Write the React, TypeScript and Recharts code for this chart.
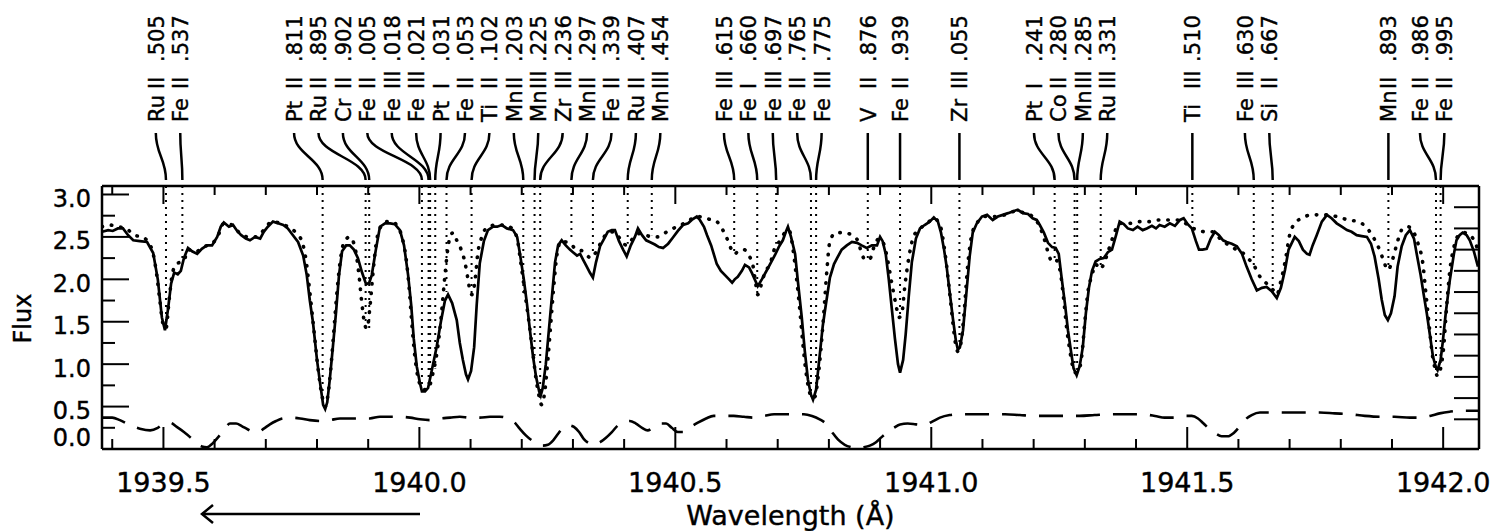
import React from "react";
import { Label, Line, LineChart, ReferenceLine, XAxis, YAxis } from "recharts";

const FONT = "'DejaVu Sans', Verdana, sans-serif";
const INK = "#000";

const X_DOMAIN: [number, number] = [1939.38, 1942.07];
const Y_DOMAIN: [number, number] = [0, 3.1];
const PLOT_W = 1377;
const PLOT_H = 263;

// [wavelength (Å), flux] — observed spectrum, solid
const observed: [number, number][] = [
  [1939.38, 2.56], [1939.392, 2.58], [1939.401, 2.57], [1939.411, 2.6], [1939.421, 2.6], [1939.431, 2.52],
  [1939.441, 2.46], [1939.454, 2.45], [1939.468, 2.44], [1939.48, 2.31], [1939.489, 2.0], [1939.497, 1.55],
  [1939.503, 1.4], [1939.509, 1.65], [1939.515, 1.95], [1939.521, 2.08], [1939.528, 2.06], [1939.534, 2.1],
  [1939.54, 2.25], [1939.548, 2.37], [1939.556, 2.33], [1939.566, 2.3], [1939.575, 2.36], [1939.585, 2.4],
  [1939.595, 2.4], [1939.605, 2.5], [1939.612, 2.62], [1939.618, 2.67], [1939.628, 2.62], [1939.636, 2.64],
  [1939.644, 2.57], [1939.652, 2.52], [1939.661, 2.48], [1939.669, 2.46], [1939.679, 2.5], [1939.689, 2.48],
  [1939.696, 2.56], [1939.704, 2.62], [1939.714, 2.68], [1939.724, 2.66], [1939.734, 2.64], [1939.743, 2.6],
  [1939.753, 2.52], [1939.763, 2.44], [1939.773, 2.28], [1939.78, 2.05], [1939.786, 1.75], [1939.792, 1.5],
  [1939.8, 1.05], [1939.806, 0.78], [1939.812, 0.52], [1939.816, 0.47], [1939.82, 0.55], [1939.825, 0.82],
  [1939.831, 1.2], [1939.837, 1.6], [1939.843, 2.05], [1939.849, 2.33], [1939.857, 2.4], [1939.864, 2.4],
  [1939.872, 2.35], [1939.88, 2.25], [1939.888, 2.08], [1939.896, 1.94], [1939.902, 1.96], [1939.907, 2.05],
  [1939.915, 2.35], [1939.923, 2.62], [1939.933, 2.66], [1939.943, 2.66], [1939.952, 2.65], [1939.962, 2.58],
  [1939.97, 2.4], [1939.978, 2.05], [1939.984, 1.7], [1939.989, 1.3], [1939.995, 0.97], [1940.001, 0.78],
  [1940.005, 0.68], [1940.011, 0.68], [1940.017, 0.72], [1940.025, 0.95], [1940.034, 1.21], [1940.042, 1.5],
  [1940.05, 1.75], [1940.056, 1.82], [1940.064, 1.72], [1940.073, 1.52], [1940.079, 1.25], [1940.085, 1.05],
  [1940.091, 0.88], [1940.095, 0.82], [1940.101, 0.92], [1940.107, 1.2], [1940.112, 1.7], [1940.118, 2.19],
  [1940.126, 2.45], [1940.134, 2.58], [1940.144, 2.62], [1940.152, 2.62], [1940.161, 2.64], [1940.171, 2.6],
  [1940.183, 2.58], [1940.191, 2.5], [1940.196, 2.32], [1940.204, 2.0], [1940.21, 1.72], [1940.216, 1.4],
  [1940.222, 1.09], [1940.228, 0.85], [1940.234, 0.68], [1940.237, 0.63], [1940.241, 0.72], [1940.247, 1.0],
  [1940.253, 1.4], [1940.259, 1.8], [1940.265, 2.2], [1940.271, 2.4], [1940.278, 2.46], [1940.286, 2.4],
  [1940.294, 2.35], [1940.3, 2.32], [1940.308, 2.28], [1940.314, 2.3], [1940.32, 2.23], [1940.327, 2.15],
  [1940.333, 2.08], [1940.339, 2.02], [1940.345, 2.2], [1940.353, 2.39], [1940.361, 2.48], [1940.368, 2.56],
  [1940.376, 2.58], [1940.382, 2.58], [1940.39, 2.45], [1940.398, 2.35], [1940.405, 2.27], [1940.413, 2.4],
  [1940.421, 2.5], [1940.427, 2.6], [1940.435, 2.52], [1940.443, 2.46], [1940.45, 2.44], [1940.46, 2.41],
  [1940.468, 2.38], [1940.476, 2.37], [1940.486, 2.42], [1940.495, 2.49], [1940.505, 2.57], [1940.515, 2.64],
  [1940.525, 2.66], [1940.532, 2.7], [1940.542, 2.74], [1940.548, 2.7], [1940.556, 2.62], [1940.562, 2.52],
  [1940.57, 2.4], [1940.575, 2.3], [1940.581, 2.18], [1940.589, 2.1], [1940.597, 2.05], [1940.605, 2.0],
  [1940.611, 1.96], [1940.616, 2.0], [1940.622, 2.03], [1940.63, 2.1], [1940.636, 2.17], [1940.644, 2.14],
  [1940.65, 2.07], [1940.655, 2.0], [1940.661, 1.92], [1940.669, 2.0], [1940.679, 2.11], [1940.687, 2.2],
  [1940.695, 2.29], [1940.702, 2.38], [1940.71, 2.46], [1940.716, 2.56], [1940.72, 2.62], [1940.726, 2.5],
  [1940.734, 2.3], [1940.739, 2.0], [1940.747, 1.55], [1940.753, 1.15], [1940.759, 0.82], [1940.765, 0.64],
  [1940.769, 0.58], [1940.775, 0.7], [1940.782, 1.1], [1940.788, 1.45], [1940.794, 1.7], [1940.802, 2.02],
  [1940.81, 2.18], [1940.816, 2.25], [1940.825, 2.35], [1940.835, 2.4], [1940.845, 2.44], [1940.855, 2.43],
  [1940.864, 2.4], [1940.874, 2.37], [1940.884, 2.4], [1940.894, 2.4], [1940.9, 2.5], [1940.905, 2.45],
  [1940.911, 2.3], [1940.917, 2.0], [1940.923, 1.65], [1940.929, 1.3], [1940.935, 1.0], [1940.939, 0.9],
  [1940.945, 1.05], [1940.95, 1.35], [1940.956, 1.8], [1940.962, 2.2], [1940.97, 2.48], [1940.978, 2.6],
  [1940.987, 2.64], [1940.997, 2.68], [1941.005, 2.73], [1941.013, 2.68], [1941.019, 2.55], [1941.025, 2.35],
  [1941.03, 2.15], [1941.036, 1.85], [1941.042, 1.55], [1941.048, 1.28], [1941.052, 1.17], [1941.056, 1.2],
  [1941.062, 1.4], [1941.068, 1.8], [1941.075, 2.27], [1941.081, 2.55], [1941.089, 2.66], [1941.099, 2.74],
  [1941.109, 2.76], [1941.12, 2.7], [1941.13, 2.74], [1941.14, 2.76], [1941.15, 2.78], [1941.159, 2.8],
  [1941.169, 2.82], [1941.179, 2.78], [1941.189, 2.77], [1941.198, 2.72], [1941.206, 2.7], [1941.212, 2.64],
  [1941.22, 2.55], [1941.228, 2.43], [1941.236, 2.38], [1941.243, 2.37], [1941.249, 2.3], [1941.255, 2.0],
  [1941.261, 1.72], [1941.267, 1.4], [1941.273, 1.15], [1941.278, 0.95], [1941.284, 0.87], [1941.29, 0.98],
  [1941.296, 1.2], [1941.302, 1.6], [1941.308, 1.9], [1941.314, 2.1], [1941.321, 2.21], [1941.329, 2.24],
  [1941.337, 2.25], [1941.345, 2.32], [1941.353, 2.35], [1941.361, 2.52], [1941.368, 2.68], [1941.376, 2.65],
  [1941.384, 2.6], [1941.394, 2.58], [1941.403, 2.62], [1941.413, 2.58], [1941.421, 2.6], [1941.431, 2.63],
  [1941.439, 2.6], [1941.446, 2.64], [1941.456, 2.62], [1941.466, 2.66], [1941.476, 2.63], [1941.486, 2.7],
  [1941.493, 2.72], [1941.501, 2.65], [1941.509, 2.6], [1941.517, 2.45], [1941.523, 2.35], [1941.53, 2.35],
  [1941.538, 2.36], [1941.546, 2.48], [1941.554, 2.56], [1941.562, 2.52], [1941.57, 2.46], [1941.577, 2.44],
  [1941.587, 2.42], [1941.597, 2.39], [1941.607, 2.3], [1941.616, 2.15], [1941.626, 2.0], [1941.636, 1.87],
  [1941.646, 1.9], [1941.655, 1.91], [1941.665, 1.86], [1941.675, 1.78], [1941.683, 1.9], [1941.691, 2.11],
  [1941.698, 2.35], [1941.71, 2.5], [1941.718, 2.45], [1941.726, 2.35], [1941.734, 2.3], [1941.739, 2.29],
  [1941.745, 2.4], [1941.753, 2.52], [1941.763, 2.68], [1941.773, 2.76], [1941.782, 2.72], [1941.792, 2.66],
  [1941.802, 2.62], [1941.812, 2.58], [1941.821, 2.56], [1941.831, 2.52], [1941.841, 2.51], [1941.851, 2.5],
  [1941.859, 2.42], [1941.866, 2.27], [1941.874, 2.0], [1941.88, 1.76], [1941.886, 1.58], [1941.892, 1.52],
  [1941.898, 1.6], [1941.905, 1.8], [1941.911, 2.15], [1941.919, 2.39], [1941.927, 2.52], [1941.935, 2.58],
  [1941.943, 2.48], [1941.948, 2.31], [1941.956, 2.05], [1941.962, 1.82], [1941.968, 1.6], [1941.974, 1.35],
  [1941.98, 1.09], [1941.986, 0.96], [1941.989, 0.93], [1941.995, 1.05], [1941.999, 1.25], [1942.005, 1.6],
  [1942.013, 1.99], [1942.021, 2.3], [1942.026, 2.46], [1942.032, 2.52], [1942.038, 2.55], [1942.046, 2.52],
  [1942.052, 2.46], [1942.06, 2.33], [1942.068, 2.15],
];

// [wavelength (Å), flux] — synthetic spectrum, dotted
const synthetic: [number, number][] = [
  [1939.38, 2.62], [1939.396, 2.64], [1939.411, 2.62], [1939.427, 2.6], [1939.443, 2.52], [1939.458, 2.5],
  [1939.47, 2.44], [1939.48, 2.3], [1939.487, 2.05], [1939.493, 1.75], [1939.499, 1.48], [1939.505, 1.42],
  [1939.511, 1.75], [1939.517, 2.05], [1939.525, 2.18], [1939.532, 2.2], [1939.54, 2.22], [1939.548, 2.35],
  [1939.562, 2.32], [1939.577, 2.38], [1939.595, 2.42], [1939.607, 2.52], [1939.618, 2.66], [1939.634, 2.64],
  [1939.65, 2.54], [1939.665, 2.5], [1939.681, 2.5], [1939.696, 2.58], [1939.712, 2.68], [1939.728, 2.66],
  [1939.743, 2.62], [1939.759, 2.55], [1939.771, 2.44], [1939.778, 2.25], [1939.786, 1.85], [1939.794, 1.4],
  [1939.802, 0.95], [1939.81, 0.62], [1939.816, 0.5], [1939.821, 0.62], [1939.827, 0.95], [1939.833, 1.4],
  [1939.839, 1.85], [1939.845, 2.2], [1939.853, 2.44], [1939.864, 2.5], [1939.874, 2.38], [1939.882, 2.05],
  [1939.888, 1.7], [1939.894, 1.45], [1939.898, 1.42], [1939.903, 1.65], [1939.909, 2.05], [1939.915, 2.4],
  [1939.923, 2.6], [1939.935, 2.68], [1939.946, 2.68], [1939.958, 2.62], [1939.966, 2.5], [1939.974, 2.25],
  [1939.98, 1.9], [1939.985, 1.5], [1939.991, 1.1], [1939.997, 0.85], [1940.003, 0.74], [1940.009, 0.7],
  [1940.015, 0.7], [1940.021, 0.76], [1940.026, 0.88], [1940.032, 1.05], [1940.038, 1.3], [1940.044, 1.65],
  [1940.05, 2.05], [1940.058, 2.45], [1940.066, 2.55], [1940.073, 2.46], [1940.081, 2.36], [1940.089, 2.2],
  [1940.095, 2.0], [1940.099, 1.86], [1940.103, 1.82], [1940.109, 2.0], [1940.114, 2.3], [1940.122, 2.5],
  [1940.134, 2.62], [1940.15, 2.64], [1940.165, 2.64], [1940.181, 2.6], [1940.191, 2.48], [1940.198, 2.2],
  [1940.206, 1.85], [1940.214, 1.5], [1940.222, 1.12], [1940.228, 0.82], [1940.234, 0.62], [1940.239, 0.52],
  [1940.245, 0.68], [1940.251, 1.05], [1940.257, 1.5], [1940.263, 1.95], [1940.269, 2.3], [1940.277, 2.45],
  [1940.286, 2.44], [1940.296, 2.42], [1940.306, 2.35], [1940.316, 2.34], [1940.325, 2.3], [1940.335, 2.25],
  [1940.345, 2.32], [1940.357, 2.46], [1940.368, 2.55], [1940.38, 2.56], [1940.392, 2.48], [1940.405, 2.4],
  [1940.417, 2.48], [1940.431, 2.54], [1940.443, 2.52], [1940.454, 2.5], [1940.466, 2.5], [1940.478, 2.54],
  [1940.489, 2.58], [1940.503, 2.62], [1940.517, 2.66], [1940.528, 2.7], [1940.542, 2.74], [1940.556, 2.73],
  [1940.57, 2.7], [1940.581, 2.68], [1940.591, 2.6], [1940.601, 2.48], [1940.609, 2.36], [1940.616, 2.3],
  [1940.624, 2.34], [1940.634, 2.35], [1940.644, 2.28], [1940.652, 2.15], [1940.657, 1.95], [1940.661, 1.82],
  [1940.667, 1.92], [1940.675, 2.08], [1940.685, 2.18], [1940.695, 2.38], [1940.704, 2.45], [1940.714, 2.55],
  [1940.722, 2.58], [1940.73, 2.35], [1940.737, 2.0], [1940.743, 1.65], [1940.749, 1.25], [1940.755, 0.92],
  [1940.761, 0.7], [1940.767, 0.6], [1940.773, 0.62], [1940.778, 0.8], [1940.784, 1.15], [1940.79, 1.6],
  [1940.796, 2.1], [1940.802, 2.45], [1940.814, 2.55], [1940.829, 2.55], [1940.845, 2.52], [1940.857, 2.45],
  [1940.864, 2.3], [1940.872, 2.23], [1940.88, 2.24], [1940.888, 2.38], [1940.898, 2.48], [1940.907, 2.42],
  [1940.915, 2.22], [1940.923, 1.95], [1940.931, 1.7], [1940.937, 1.55], [1940.943, 1.62], [1940.948, 1.9],
  [1940.956, 2.25], [1940.964, 2.48], [1940.974, 2.58], [1940.989, 2.64], [1941.005, 2.72], [1941.017, 2.64],
  [1941.026, 2.35], [1941.034, 1.95], [1941.042, 1.5], [1941.048, 1.22], [1941.052, 1.15], [1941.058, 1.25],
  [1941.064, 1.6], [1941.071, 2.15], [1941.079, 2.52], [1941.089, 2.66], [1941.105, 2.74], [1941.124, 2.74],
  [1941.144, 2.76], [1941.163, 2.8], [1941.183, 2.78], [1941.198, 2.74], [1941.212, 2.62], [1941.222, 2.45],
  [1941.23, 2.28], [1941.237, 2.2], [1941.245, 2.22], [1941.253, 2.05], [1941.259, 1.75], [1941.265, 1.4],
  [1941.271, 1.15], [1941.276, 0.98], [1941.282, 0.9], [1941.288, 0.92], [1941.294, 1.1], [1941.3, 1.5],
  [1941.306, 1.85], [1941.314, 2.05], [1941.321, 2.18], [1941.329, 2.12], [1941.337, 2.18], [1941.345, 2.32],
  [1941.355, 2.5], [1941.368, 2.66], [1941.388, 2.66], [1941.407, 2.68], [1941.427, 2.68], [1941.446, 2.7],
  [1941.466, 2.7], [1941.486, 2.7], [1941.505, 2.62], [1941.521, 2.58], [1941.536, 2.56], [1941.55, 2.56],
  [1941.564, 2.48], [1941.577, 2.42], [1941.593, 2.36], [1941.609, 2.31], [1941.62, 2.24], [1941.63, 2.17],
  [1941.64, 2.05], [1941.65, 1.98], [1941.659, 1.93], [1941.667, 1.88], [1941.675, 1.82], [1941.683, 1.98],
  [1941.691, 2.2], [1941.7, 2.52], [1941.71, 2.66], [1941.724, 2.72], [1941.743, 2.76], [1941.769, 2.76],
  [1941.792, 2.74], [1941.814, 2.7], [1941.833, 2.68], [1941.849, 2.62], [1941.861, 2.52], [1941.872, 2.4],
  [1941.882, 2.25], [1941.892, 2.11], [1941.902, 2.25], [1941.911, 2.45], [1941.921, 2.6], [1941.931, 2.62],
  [1941.943, 2.55], [1941.952, 2.4], [1941.96, 2.2], [1941.966, 1.85], [1941.972, 1.5], [1941.978, 1.15],
  [1941.984, 0.95], [1941.989, 0.86], [1941.995, 0.95], [1942.001, 1.2], [1942.007, 1.7], [1942.013, 2.1],
  [1942.021, 2.38], [1942.03, 2.52], [1942.042, 2.55], [1942.056, 2.5], [1942.068, 2.35],
];

// [wavelength (Å), value] — lower dashed curve
const lower: [number, number][] = [
  [1939.38, 0.37], [1939.4, 0.37], [1939.415, 0.34], [1939.435, 0.28], [1939.454, 0.24], [1939.474, 0.22],
  [1939.489, 0.25], [1939.501, 0.3], [1939.513, 0.31], [1939.526, 0.26], [1939.54, 0.2], [1939.552, 0.14],
  [1939.564, 0.07], [1939.575, 0.03], [1939.585, 0.02], [1939.595, 0.06], [1939.607, 0.14], [1939.618, 0.22],
  [1939.63, 0.3], [1939.642, 0.3], [1939.653, 0.27], [1939.665, 0.23], [1939.677, 0.2], [1939.685, 0.2],
  [1939.696, 0.24], [1939.708, 0.29], [1939.72, 0.33], [1939.732, 0.36], [1939.747, 0.37], [1939.767, 0.36],
  [1939.786, 0.34], [1939.806, 0.33], [1939.825, 0.34], [1939.845, 0.36], [1939.864, 0.36], [1939.884, 0.36],
  [1939.903, 0.36], [1939.923, 0.38], [1939.943, 0.38], [1939.962, 0.38], [1939.982, 0.37], [1940.001, 0.35],
  [1940.021, 0.34], [1940.04, 0.36], [1940.06, 0.37], [1940.079, 0.38], [1940.099, 0.37], [1940.118, 0.37],
  [1940.138, 0.38], [1940.157, 0.38], [1940.173, 0.36], [1940.185, 0.32], [1940.196, 0.24], [1940.208, 0.16],
  [1940.22, 0.1], [1940.232, 0.06], [1940.241, 0.04], [1940.251, 0.05], [1940.261, 0.1], [1940.271, 0.18],
  [1940.28, 0.25], [1940.292, 0.28], [1940.302, 0.26], [1940.312, 0.2], [1940.321, 0.12], [1940.331, 0.07],
  [1940.341, 0.05], [1940.353, 0.08], [1940.364, 0.13], [1940.376, 0.2], [1940.388, 0.28], [1940.4, 0.32],
  [1940.411, 0.33], [1940.423, 0.3], [1940.435, 0.25], [1940.446, 0.22], [1940.458, 0.26], [1940.47, 0.3],
  [1940.482, 0.3], [1940.493, 0.25], [1940.505, 0.2], [1940.517, 0.2], [1940.528, 0.25], [1940.544, 0.31],
  [1940.56, 0.36], [1940.575, 0.39], [1940.595, 0.39], [1940.614, 0.39], [1940.634, 0.38], [1940.653, 0.37],
  [1940.673, 0.39], [1940.693, 0.41], [1940.712, 0.41], [1940.732, 0.41], [1940.751, 0.41], [1940.767, 0.39],
  [1940.782, 0.35], [1940.794, 0.3], [1940.806, 0.2], [1940.818, 0.11], [1940.831, 0.05], [1940.845, 0.02],
  [1940.857, 0.01], [1940.868, 0.02], [1940.88, 0.04], [1940.892, 0.08], [1940.903, 0.14], [1940.915, 0.2],
  [1940.927, 0.25], [1940.939, 0.29], [1940.954, 0.3], [1940.97, 0.29], [1940.986, 0.28], [1941.001, 0.32],
  [1941.017, 0.37], [1941.036, 0.4], [1941.056, 0.41], [1941.085, 0.41], [1941.114, 0.41], [1941.144, 0.41],
  [1941.173, 0.4], [1941.202, 0.39], [1941.232, 0.39], [1941.261, 0.39], [1941.29, 0.39], [1941.319, 0.4],
  [1941.349, 0.41], [1941.378, 0.41], [1941.407, 0.41], [1941.437, 0.39], [1941.456, 0.37], [1941.476, 0.37],
  [1941.495, 0.39], [1941.509, 0.39], [1941.521, 0.36], [1941.532, 0.3], [1941.544, 0.23], [1941.556, 0.18],
  [1941.567, 0.15], [1941.579, 0.15], [1941.591, 0.19], [1941.603, 0.27], [1941.614, 0.35], [1941.626, 0.4],
  [1941.642, 0.43], [1941.671, 0.43], [1941.7, 0.43], [1941.73, 0.43], [1941.759, 0.43], [1941.788, 0.42],
  [1941.818, 0.41], [1941.847, 0.39], [1941.876, 0.38], [1941.905, 0.38], [1941.935, 0.37], [1941.954, 0.37],
  [1941.974, 0.39], [1941.993, 0.42], [1942.013, 0.44], [1942.032, 0.45], [1942.068, 0.45],
];

// line identifications
const lineSpecies = [
  "Ru", "Fe", "Pt", "Ru", "Cr", "Fe", "Fe", "Fe", "Pt", "Fe", "Ti", "Mn", "Mn", "Zr", "Mn", "Fe", "Ru", "Mn",
  "Fe", "Fe", "Fe", "Fe", "Fe", "V", "Fe", "Zr", "Pt", "Co", "Mn", "Ru", "Ti", "Fe", "Si", "Mn", "Fe", "Fe",
];
const lineStage = [
  "II", "II", "II", "II", "II", "II", "III", "III", "I", "II", "II", "II", "III", "III", "II", "II", "II", "III",
  "III", "I", "III", "II", "III", "II", "II", "III", "I", "II", "III", "III", "III", "III", "II", "II", "II", "II",
];
const lineWave = [
  1939.505, 1939.537, 1939.811, 1939.895, 1939.902, 1940.005, 1940.018, 1940.021, 1940.031, 1940.053, 1940.102,
  1940.203, 1940.225, 1940.236, 1940.297, 1940.339, 1940.407, 1940.454, 1940.615, 1940.66, 1940.697, 1940.765,
  1940.775, 1940.876, 1940.939, 1941.055, 1941.241, 1941.28, 1941.285, 1941.331, 1941.51, 1941.63, 1941.667,
  1941.893, 1941.986, 1941.995,
];
// flux where each dotted marker stops
const lineDepth = [
  1.45, 2.2, 0.55, 1.45, 1.42, 0.73, 0.72, 0.73, 0.95, 1.85, 1.82, 1.8, 1.1, 0.55, 2.44, 2.28, 2.42, 2.52,
  2.31, 1.82, 2.42, 0.62, 0.64, 2.23, 1.55, 1.15, 2.2, 0.95, 0.92, 2.12, 2.6, 2.17, 1.82, 2.11, 0.88, 0.88,
];

const xLabelTicks = [1939.5, 1940.0, 1940.5, 1941.0, 1941.5, 1942.0];
const yLabelTicks = [0, 0.5, 1.0, 1.5, 2.0, 2.5, 3.0];
const xMarkTicks = Array.from({ length: 27 }, (_, i) => Math.round((1939.4 + i * 0.1) * 10) / 10);
const yLeftMarkTicks = Array.from({ length: 12 }, (_, i) => 0.25 * (i + 1));
const yRightMarkTicks = Array.from({ length: 11 }, (_, i) => 0.35 + 0.25 * i);

// data units per screen pixel, for tick-mark lengths
const PX_X = (X_DOMAIN[1] - X_DOMAIN[0]) / PLOT_W;
const PX_Y = (Y_DOMAIN[1] - Y_DOMAIN[0]) / PLOT_H;

// tag layout (flux units above the frame, Å between tags)
const TAG_TOP = 3.725;
const TAG_FOOT = 3.171;
const TAG_GAP = 0.0477;
const TAG_GROUP_SHIFT = 0.012;

const rows = (pts: [number, number][]) => pts.map(([w, f]) => ({ w, f }));

// push crowded labels apart, each crowded group centred (a bit to the left) on its lines
function spreadTags(ws: number[], gap: number) {
  const groups: { lo: number; n: number; sum: number }[] = [];
  for (const w of ws) {
    groups.push({ lo: w, n: 1, sum: w });
    while (groups.length > 1) {
      const b = groups[groups.length - 1];
      const a = groups[groups.length - 2];
      if (b.lo - (a.lo + (a.n - 1) * gap) >= gap) break;
      const n = a.n + b.n;
      const sum = a.sum + b.sum;
      groups.splice(groups.length - 2, 2, { lo: sum / n - ((n - 1) * gap) / 2, n, sum });
    }
  }
  return groups.flatMap((g) =>
    Array.from({ length: g.n }, (_, k) => g.lo + k * gap - (g.n > 1 ? TAG_GROUP_SHIFT : 0))
  );
}

const isMajor = (v: number) => Math.abs(v * 2 - Math.round(v * 2)) < 1e-6;

function XTick({ x, y, payload }: any) {
  return (
    <text x={x} y={y + 43} textAnchor="middle" fontSize={27} fontFamily={FONT} fill={INK} stroke={INK} strokeWidth={0.4}>
      {payload.value.toFixed(1)}
    </text>
  );
}
function YTick({ x, y, payload }: any) {
  const dy = payload.value === 0 ? -3 : 12.5;
  return (
    <text x={x - 11} y={y + dy} textAnchor="end" fontSize={24} fontFamily={FONT} fill={INK} stroke={INK} strokeWidth={0.4}>
      {payload.value.toFixed(1)}
    </text>
  );
}

function XTitle(props: any) {
  const vb = props.viewBox ?? { x: 102, y: 448, width: 1377, height: 1 };
  const base = vb.y + vb.height;
  const ax = vb.x + 100;
  const ay = base + 64;
  return (
    <g>
      <text
        x={vb.x + vb.width / 2}
        y={base + 75}
        textAnchor="middle"
        fontSize={27}
        fontFamily={FONT}
        fill={INK}
        stroke={INK}
        strokeWidth={0.4}
      >
        Wavelength (Å)
      </text>
      <line x1={ax} y1={ay} x2={vb.x + 318} y2={ay} stroke={INK} strokeWidth={2.5} />
      <polyline
        points={`${ax + 11},${ay - 9} ${ax},${ay} ${ax + 11},${ay + 9}`}
        fill="none"
        stroke={INK}
        strokeWidth={2.5}
      />
    </g>
  );
}

function FluxTitle(props: any) {
  const vb = props.viewBox ?? { x: 101, y: 186, width: 1, height: 263 };
  const x = vb.x - 70;
  const y = vb.y + vb.height / 2 + 1;
  return (
    <text
      transform={`translate(${x},${y}) rotate(-90)`}
      textAnchor="middle"
      fontSize={24}
      fontFamily={FONT}
      fill={INK}
      stroke={INK}
      strokeWidth={0.4}
    >
      Flux
    </text>
  );
}

function LineTag({ x1, y1, x2, y2, species, stage, wave }: any) {
  const bend = (y2 - y1) * 0.45;
  const dec = "." + String(Math.round((wave % 1) * 1000)).padStart(3, "0");
  return (
    <g>
      <path
        d={`M${x1},${y1} C${x1},${y1 + bend} ${x2},${y2 - bend} ${x2},${y2}`}
        fill="none"
        stroke={INK}
        strokeWidth={2.5}
      />
      <g
        transform={`translate(${x1 + 8},${y1 - 11}) rotate(-90)`}
        fontFamily={FONT}
        fontSize={21}
        fill={INK}
        stroke={INK}
        strokeWidth={0.4}
      >
        <text x={0} y={0}>{species}</text>
        <text x={33} y={0}>{stage}</text>
        <text x={60} y={0}>{dec}</text>
      </g>
    </g>
  );
}

// inward tick marks on the four sides of the frame, as segments in data units
function frameMarks() {
  const [x0, x1] = X_DOMAIN;
  const [y0, y1] = Y_DOMAIN;
  const segs: { x: number; y: number }[][] = [];
  xMarkTicks.forEach((t) => {
    segs.push([{ x: t, y: y0 }, { x: t, y: y0 + (isMajor(t) ? 22 : 10) * PX_Y }]);
    segs.push([{ x: t, y: y1 }, { x: t, y: y1 - (isMajor(t) ? 18 : 9) * PX_Y }]);
  });
  yLeftMarkTicks.forEach((t) => {
    segs.push([{ x: x0, y: t }, { x: x0 + (isMajor(t) ? 27 : 13) * PX_X, y: t }]);
  });
  yRightMarkTicks.forEach((t) => {
    segs.push([{ x: x1, y: t }, { x: x1 - 25 * PX_X, y: t }]);
  });
  return segs;
}

export default function App() {
  const tagSlots = spreadTags(lineWave, TAG_GAP);
  const marks = frameMarks();
  return (
    <div style={{ width: 1493, height: 531, background: "#fff" }}>
      <style>{"body{margin:0}"}</style>
      <LineChart width={1493} height={531} margin={{ top: 185, right: 13, bottom: 81, left: 101 }}>
        <XAxis
          xAxisId="x"
          type="number"
          dataKey="w"
          domain={X_DOMAIN}
          allowDataOverflow
          ticks={xLabelTicks}
          interval={0}
          height={1}
          tickSize={0}
          tickMargin={0}
          tickLine={false}
          tick={<XTick />}
          axisLine={{ stroke: INK, strokeWidth: 2.5 }}
        >
          <Label content={<XTitle />} />
        </XAxis>
        <XAxis
          xAxisId="xt"
          orientation="top"
          type="number"
          domain={X_DOMAIN}
          allowDataOverflow
          height={1}
          tick={false}
          tickLine={false}
          axisLine={{ stroke: INK, strokeWidth: 2.5 }}
        />
        <YAxis
          yAxisId="y"
          type="number"
          domain={Y_DOMAIN}
          allowDataOverflow
          ticks={yLabelTicks}
          interval={0}
          width={1}
          tickSize={0}
          tickMargin={0}
          tickLine={false}
          tick={<YTick />}
          axisLine={{ stroke: INK, strokeWidth: 2.5 }}
        >
          <Label content={<FluxTitle />} />
        </YAxis>
        <YAxis
          yAxisId="yr"
          orientation="right"
          type="number"
          domain={Y_DOMAIN}
          allowDataOverflow
          width={1}
          tick={false}
          tickLine={false}
          axisLine={{ stroke: INK, strokeWidth: 2.5 }}
        />

        <Line
          xAxisId="x"
          yAxisId="y"
          data={rows(lower)}
          dataKey="f"
          type="monotone"
          stroke={INK}
          strokeWidth={2.6}
          strokeDasharray="24 13"
          dot={false}
          activeDot={false}
          isAnimationActive={false}
        />
        <Line
          xAxisId="x"
          yAxisId="y"
          data={rows(synthetic)}
          dataKey="f"
          type="monotone"
          stroke={INK}
          strokeWidth={3.6}
          strokeLinecap="round"
          strokeDasharray="0.5 9"
          dot={false}
          activeDot={false}
          isAnimationActive={false}
        />
        <Line
          xAxisId="x"
          yAxisId="y"
          data={rows(observed)}
          dataKey="f"
          type="linear"
          stroke={INK}
          strokeWidth={2.7}
          dot={false}
          activeDot={false}
          isAnimationActive={false}
        />

        {marks.map((seg, i) => (
          <ReferenceLine
            key={`tick-${i}`}
            xAxisId="x"
            yAxisId="y"
            ifOverflow="visible"
            segment={seg}
            stroke={INK}
            strokeWidth={2}
          />
        ))}
        {lineWave.map((w, i) => (
          <ReferenceLine
            key={`mark-${i}`}
            xAxisId="x"
            yAxisId="y"
            ifOverflow="visible"
            segment={[{ x: w, y: Y_DOMAIN[1] }, { x: w, y: lineDepth[i] }]}
            stroke={INK}
            strokeWidth={2}
            strokeDasharray="2 5"
          />
        ))}
        {lineWave.map((w, i) => (
          <ReferenceLine
            key={`tag-${i}`}
            xAxisId="x"
            yAxisId="y"
            ifOverflow="visible"
            segment={[{ x: tagSlots[i], y: TAG_TOP }, { x: w, y: TAG_FOOT }]}
            stroke={INK}
            shape={(p: any) => <LineTag {...p} species={lineSpecies[i]} stage={lineStage[i]} wave={w} />}
          />
        ))}
      </LineChart>
    </div>
  );
}
